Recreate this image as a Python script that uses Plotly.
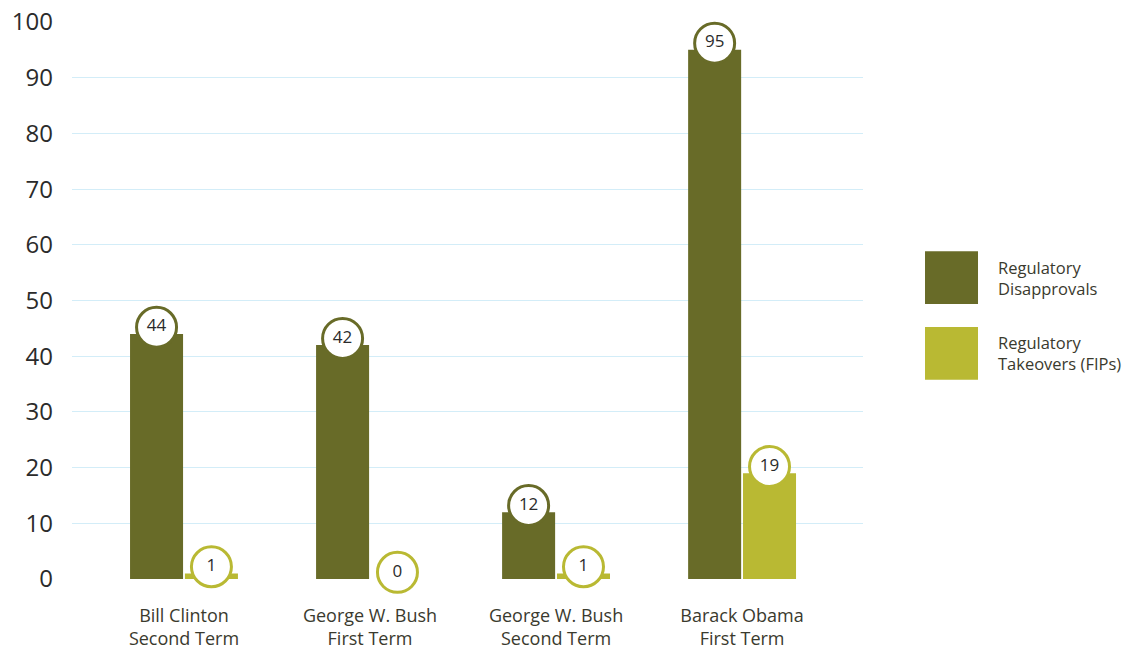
import plotly.graph_objects as go

categories = ["Bill Clinton<br>Second Term", "George W. Bush<br>First Term",
              "George W. Bush<br>Second Term", "Barack Obama<br>First Term"]
disapprovals = [44, 42, 12, 95]
takeovers = [1, 0, 1, 19]
series_names = ["Regulatory<br>Disapprovals", "Regulatory<br>Takeovers (FIPs)"]
y_ticks = [0, 10, 20, 30, 40, 50, 60, 70, 80, 90, 100]

DARK = "#686b28"
LIGHT = "#b9b933"
BAR_W = 0.285
OFFS = [-0.29, 0.005]
TEXT = "#3a3a2e"
FONT = "Open Sans"

idx = list(range(len(categories)))
fig = go.Figure()
for vals, color, off, name in [(disapprovals, DARK, OFFS[0], series_names[0]),
                               (takeovers, LIGHT, OFFS[1], series_names[1])]:
    fig.add_trace(go.Bar(x=idx, y=vals, width=BAR_W, offset=off, marker_color=color,
                         marker_line_width=0, name=name, showlegend=False))
    fig.add_trace(go.Scatter(
        x=[i + off + BAR_W / 2 for i in idx], y=[v + 1.2 for v in vals],
        mode="markers+text", text=[str(v) for v in vals], textposition="middle center",
        textfont=dict(size=17, color="#2b2b2b", family=FONT),
        marker=dict(size=40, color="white", line=dict(color=color, width=3)),
        showlegend=False, hoverinfo="skip", cliponaxis=False))

# legend drawn as swatches + text
leg_items = [(DARK, series_names[0], 0.541), (LIGHT, series_names[1], 0.405)]
for color, name, ymid in leg_items:
    fig.add_shape(type="rect", xref="paper", yref="paper",
                  x0=1.0784, x1=1.1454, y0=ymid - 0.0475, y1=ymid + 0.0475,
                  fillcolor=color, line_width=0)
    fig.add_annotation(xref="paper", yref="paper", x=1.168, y=ymid, text=name,
                       showarrow=False, xanchor="left", yanchor="middle", align="left",
                       font=dict(size=16.5, color=TEXT, family=FONT))

fig.update_layout(
    width=1126, height=649, plot_bgcolor="white", paper_bgcolor="white",
    margin=dict(l=72, r=263, t=22, b=70, autoexpand=False),
    font=dict(family=FONT, color=TEXT),
    xaxis=dict(range=[-0.602, 3.65], tickvals=idx, ticktext=categories,
               showgrid=False, zeroline=False, showline=False, automargin=False,
               ticklabelstandoff=24,
               tickfont=dict(size=18, color=TEXT, family=FONT), ticks=""),
    yaxis=dict(range=[0, 100], tickvals=y_ticks, showgrid=True, gridcolor="#d3edf8",
               gridwidth=1, zeroline=False, showline=False, ticks="", automargin=False,
               ticklabelstandoff=18,
               tickfont=dict(size=24, color="#2b2b2b", family=FONT)),
    showlegend=False,
)
fig.write_html("out.html", config={"displayModeBar": False},
               post_script="document.body.style.margin='0';")
